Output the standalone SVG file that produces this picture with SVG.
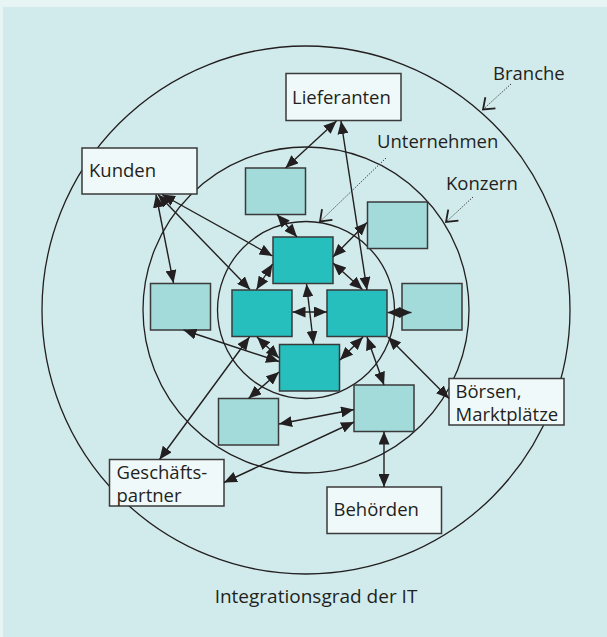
<svg xmlns="http://www.w3.org/2000/svg" width="607" height="637" viewBox="0 0 607 637">
<style>
.ring{fill:none;stroke:#231f20;stroke-width:1.3}
.lt{fill:#a3dbdb;stroke:#3a3a3a;stroke-width:1.5}
.dk{fill:#26bfbd;stroke:#3a3a3a;stroke-width:1.5}
.wb{fill:#f0f9f9;stroke:#3a3a3a;stroke-width:1.5}
.t{font-family:"Open Sans","Noto Sans","Liberation Sans",sans-serif;font-size:18.5px;fill:#231f20}
.c{fill:none;stroke:#231f20;stroke-width:1.4;marker-start:url(#a);marker-end:url(#a)}
.d{fill:none;stroke:#333;stroke-width:1;stroke-dasharray:1.3 1.5;marker-end:url(#v)}
</style>
<defs>
<marker id="a" viewBox="0 0 13 11" refX="13" refY="5.5" markerWidth="13" markerHeight="11" orient="auto-start-reverse" markerUnits="userSpaceOnUse"><path d="M0,0 L13,5.5 L0,11 z" fill="#231f20"/></marker>
<marker id="v" viewBox="-12 -9 14 18" refX="0" refY="0" markerWidth="14" markerHeight="18" orient="auto" markerUnits="userSpaceOnUse"><path d="M-10,-7.5 L0,0 L-10,7.5" fill="none" stroke="#231f20" stroke-width="1.8"/></marker>
</defs>
<rect x="0" y="0" width="607" height="637" fill="#e6f4f4"/>
<rect x="3" y="7" width="604" height="630" fill="#d1ebec"/>
<g id="rings">
<circle class="ring" cx="306" cy="310" r="264"/>
<circle class="ring" cx="306" cy="310" r="163"/>
<circle class="ring" cx="306" cy="310" r="88.5"/>
</g>
<g id="ring-labels">
<text class="t" x="493" y="80">Branche</text>
<text class="t" x="377" y="148">Unternehmen</text>
<text class="t" x="446" y="190">Konzern</text>
</g>
<g id="leaders">
<path class="d" d="M511,84 L483,109.5"/>
<path class="d" d="M473,197 L446,222"/>
<path class="d" d="M386,158 L320,221.5"/>
</g>
<g id="lieferanten"><rect class="wb" x="286" y="73.5" width="115" height="47"/><text class="t" x="292" y="104">Lieferanten</text></g>
<g id="kunden"><rect class="wb" x="82" y="148" width="115" height="46"/><text class="t" x="89" y="176.5">Kunden</text></g>
<g id="boersen"><rect class="wb" x="449" y="378.5" width="115" height="46.5"/><text class="t" x="455.5" y="397.5">Börsen,</text><text class="t" x="455.5" y="420.5">Marktplätze</text></g>
<g id="geschaeftspartner"><rect class="wb" x="109.5" y="459.5" width="114.5" height="46.5"/><text class="t" x="116.5" y="478.5">Geschäfts-</text><text class="t" x="116.5" y="501.5">partner</text></g>
<g id="behoerden"><rect class="wb" x="327" y="487" width="114.5" height="46.5"/><text class="t" x="333.5" y="515.5">Behörden</text></g>
<g id="lt-top"><rect class="lt" x="245.5" y="168" width="60" height="46.5"/></g>
<g id="lt-upright"><rect class="lt" x="367.5" y="202" width="60" height="46.5"/></g>
<g id="lt-left"><rect class="lt" x="150.5" y="283.5" width="60" height="46.5"/></g>
<g id="lt-right"><rect class="lt" x="402" y="283.5" width="60" height="46.5"/></g>
<g id="lt-botleft"><rect class="lt" x="218.5" y="398.5" width="60" height="46.5"/></g>
<g id="lt-botright"><rect class="lt" x="354" y="385" width="60" height="46.5"/></g>
<g id="dk-top"><rect class="dk" x="273" y="237" width="60" height="46.5"/></g>
<g id="dk-left"><rect class="dk" x="232" y="290" width="60" height="46.5"/></g>
<g id="dk-right"><rect class="dk" x="327" y="290" width="60" height="46.5"/></g>
<g id="dk-bottom"><rect class="dk" x="279.5" y="344.5" width="60" height="46.5"/></g>
<g id="connectors">
<path class="c" d="M336.5,121 L285.5,168"/>
<path class="c" d="M341,121 L367,290"/>
<path class="c" d="M156,194.5 L173.5,283"/>
<path class="c" d="M162,194.5 L272.5,256"/>
<path class="c" d="M158,194.5 L250,289.5"/>
<path class="c" d="M277,214.5 L297,237"/>
<path class="c" d="M333,257 L367,222.5"/>
<path class="c" d="M333,263 L362.5,289.5"/>
<path class="c" d="M272.5,264 L256.5,289.5"/>
<path class="c" d="M292.5,312 L327,312"/>
<path class="c" d="M306.5,284 L313.5,344"/>
<path class="c" d="M257,337 L279,358"/>
<path class="c" d="M363,337 L340,360"/>
<path class="c" d="M387.5,312.5 L411.5,312.5"/>
<path class="c" d="M367,337 L384,385"/>
<path class="c" d="M388,337 L449,398.5"/>
<path class="c" d="M279,372 L248.5,398.5"/>
<path class="c" d="M183.5,330 L279,361.5"/>
<path class="c" d="M249.5,337 L159.5,459.5"/>
<path class="c" d="M279,424 L354,409.5"/>
<path class="c" d="M354,422 L224,482.5"/>
<path class="c" d="M384,431.5 L384,487"/>
</g>
<text class="t" x="316" y="603" text-anchor="middle" style="font-size:19px">Integrationsgrad der IT</text>
</svg>
